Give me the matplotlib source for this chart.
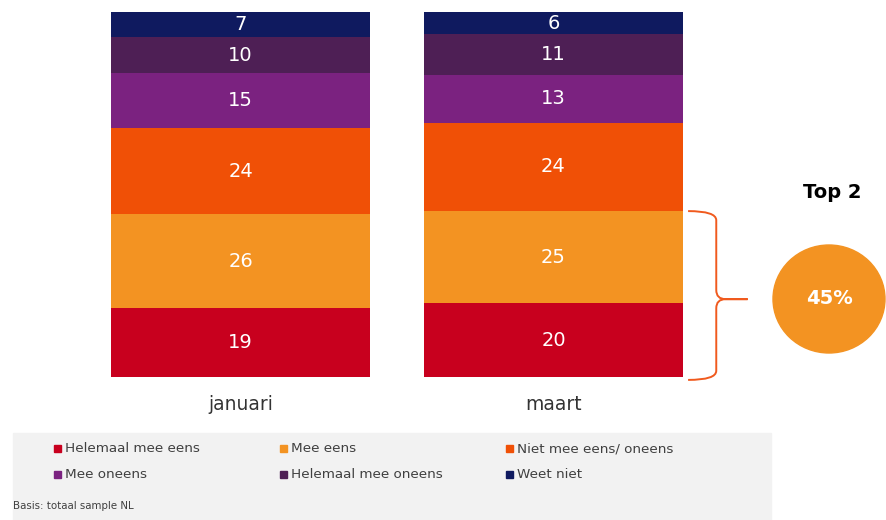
import matplotlib.pyplot as plt
import numpy as np
from matplotlib.path import Path
from matplotlib.patches import PathPatch, Ellipse, Rectangle

# data
months = ['januari', 'maart']
categories = ['Helemaal mee eens', 'Mee eens', 'Niet mee eens/ oneens',
              'Mee oneens', 'Helemaal mee oneens', 'Weet niet']
values = {
    'januari': [19, 26, 24, 15, 10, 7],
    'maart': [20, 25, 24, 13, 11, 6],
}
colors = ['#C8001E', '#F39322', '#F05006', '#7B2280', '#4E1F55', '#0F1A5F']
top2_label = 'Top 2'
top2_value = '45%'

fig = plt.figure(figsize=(8.86, 5.20), dpi=100)

# bar axes (bars scaled to 100%)
ax = fig.add_axes([0, 143 / 520, 1, 365 / 520])
x = np.arange(len(months))
for i, m in enumerate(months):
    vals = np.array(values[m], dtype=float)
    share = vals / vals.sum() * 100
    bottom = 0
    for j, (v, s) in enumerate(zip(vals, share)):
        ax.bar(x[i], s, bottom=bottom, width=0.83, color=colors[j], linewidth=0)
        ax.text(x[i], bottom + s / 2, f'{int(v)}', ha='center', va='center',
                color='white', fontsize=14)
        bottom += s
    ax.text(x[i], -7.5, m, ha='center', va='center', fontsize=13.5, color='#333333')

ax.set_xlim(-240.5 / 313, (886 - 240.5) / 313)
ax.set_ylim(0, 100)
ax.axis('off')

# bracket around top 2 of last bar
mv = np.array(values['maart'], dtype=float)
top = (mv[0] + mv[1]) / mv.sum() * 100
bot = -0.8
mid = (top + bot) / 2 - 1
x0, x1, x2 = 1.43, 1.52, 1.62
dy, dx = 2.5, 0.03
verts = [(x0, top), (x1, top), (x1, top - dy),
         (x1, mid + dy), (x1, mid), (x1 + dx, mid), (x2, mid),
         (x1 + dx, mid), (x1, mid), (x1, mid - dy),
         (x1, bot + dy), (x1, bot), (x0, bot)]
codes = [Path.MOVETO, Path.CURVE3, Path.CURVE3,
         Path.LINETO, Path.CURVE3, Path.CURVE3, Path.LINETO,
         Path.LINETO, Path.CURVE3, Path.CURVE3,
         Path.LINETO, Path.CURVE3, Path.CURVE3]
ax.add_patch(PathPatch(Path(verts, codes), fill=False, edgecolor='#F05A1E',
                       linewidth=1.4, clip_on=False))

# overlay axes in pixel units for annotations and legend
ov = fig.add_axes([0, 0, 1, 1], zorder=-1)
ov.set_xlim(0, 886)
ov.set_ylim(520, 0)
ov.axis('off')

ann = fig.add_axes([0, 0, 1, 1], zorder=5)
ann.set_xlim(0, 886)
ann.set_ylim(520, 0)
ann.axis('off')
ann.add_patch(Ellipse((829, 299), 112, 108, color='#F39322', clip_on=False))
ann.text(829, 299, top2_value, ha='center', va='center', color='white',
         fontsize=14, fontweight='bold')
ann.text(832, 193, top2_label, ha='center', va='center', color='black',
         fontsize=14, fontweight='bold')

# legend box
ov.add_patch(Rectangle((13, 433), 758, 87, color='#F2F2F2'))
lx = [57, 283, 509]
ly = [449, 475]
for k, (c, lab) in enumerate(zip(colors, categories)):
    r, col = divmod(k, 3)
    ann.add_patch(Rectangle((lx[col] - 3, ly[r] - 4), 7, 7, color=c))
    ann.text(lx[col] + 8, ly[r], lab, ha='left', va='center', fontsize=9.7,
             color='#404040')
ann.text(13, 506, 'Basis: totaal sample NL', ha='left', va='center',
         fontsize=7.4, color='#404040')

fig.savefig('out.png', dpi=100)
